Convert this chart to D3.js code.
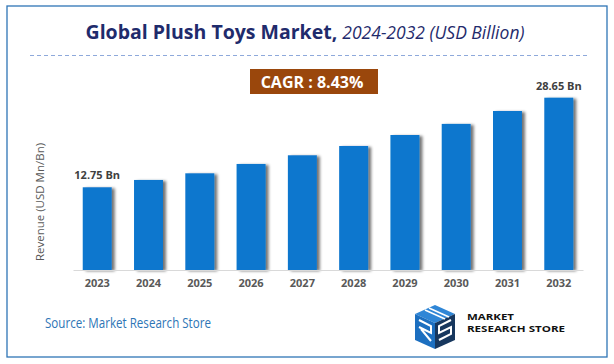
<!DOCTYPE html>
<html>
<head>
<meta charset="utf-8">
<script src="https://cdn.jsdelivr.net/npm/d3@7"></script>
<style>
  body { margin: 0; background: #fff; }
  svg text { font-family: "Open Sans", "Noto Sans", sans-serif; }
</style>
</head>
<body>
<div class="graph-section"></div>
<script>
var years = ["2023", "2024", "2025", "2026", "2027", "2028", "2029", "2030", "2031", "2032"];
var revenue = [12.75, 14.05, 15.23, 16.89, 18.43, 20.08, 22.03, 24.0, 26.29, 28.65];
var labelled = ["2023", "2032"];
var cagr = "CAGR : 8.43%";

var screen = {width: 614, height: 364};
var plot = {left: 73, right: 583, top: 97.7, bottom: 270};

var svg = d3.select(".graph-section")
            .append("svg")
            .attr("width", screen.width)
            .attr("height", screen.height);

var defs = svg.append("defs");
var shadow = defs.append("filter")
                 .attr("id", "shadow")
                 .attr("x", "-20%").attr("y", "-10%")
                 .attr("width", "160%").attr("height", "130%");
shadow.append("feGaussianBlur").attr("in", "SourceAlpha").attr("stdDeviation", 1.6);
shadow.append("feOffset").attr("dx", 3).attr("dy", 1).attr("result", "off");
shadow.append("feComponentTransfer").append("feFuncA").attr("type", "linear").attr("slope", 0.55);
var merge = shadow.append("feMerge");
merge.append("feMergeNode");
merge.append("feMergeNode").attr("in", "SourceGraphic");

// frame
svg.append("rect")
   .attr("x", 7).attr("y", 6)
   .attr("width", 600).attr("height", 351)
   .attr("fill", "none")
   .attr("stroke", "#2E75B6")
   .attr("stroke-width", 1.3);

// title
var title = svg.append("text")
               .attr("x", 305).attr("y", 39)
               .attr("text-anchor", "middle")
               .attr("fill", "#1F2B6C");
title.append("tspan").attr("font-weight", "bold").attr("font-size", 19.5).text("Global Plush Toys Market, ");
title.append("tspan").attr("font-style", "italic").attr("font-size", 17.5).text("2024-2032 (USD Billion)");

svg.append("line")
   .attr("x1", 30).attr("x2", 590)
   .attr("y1", 55.5).attr("y2", 55.5)
   .attr("stroke", "#8EA9DB")
   .attr("stroke-width", 1)
   .attr("stroke-dasharray", "4,3");

// scales
var xScale = d3.scaleBand()
               .domain(years)
               .range([plot.left, plot.right])
               .paddingInner(0.435)
               .paddingOuter(0.19);

var yScale = d3.scaleLinear()
               .domain([-1.93, 28.65])
               .range([plot.bottom, plot.top]);

svg.selectAll(".bar")
   .data(revenue)
   .enter()
   .append("rect")
   .classed("bar", true)
   .attr("x", function(d, i){return xScale(years[i]);})
   .attr("y", function(d){return yScale(d);})
   .attr("width", xScale.bandwidth())
   .attr("height", function(d){return plot.bottom - yScale(d);})
   .attr("fill", "#0B77CE")
   .attr("filter", "url(#shadow)");

var xAxis = d3.axisBottom().scale(xScale).tickSize(0).tickPadding(9);
var axisG = svg.append("g")
               .attr("transform", "translate(0," + plot.bottom + ")")
               .call(xAxis);
axisG.select(".domain").attr("stroke", "#D9D9D9").attr("stroke-width", 1.2);
axisG.selectAll("text")
     .attr("font-family", "'Open Sans', sans-serif")
     .attr("font-size", 11)
     .attr("font-weight", "bold")
     .attr("fill", "#595959");

// value labels
svg.selectAll(".vlabel")
   .data(revenue.filter(function(d, i){return labelled.indexOf(years[i]) >= 0;}))
   .enter()
   .append("text")
   .classed("vlabel", true)
   .attr("x", function(d){return xScale(years[revenue.indexOf(d)]) + xScale.bandwidth() / 2;})
   .attr("y", function(d){return yScale(d) - 8;})
   .attr("text-anchor", "middle")
   .attr("font-size", 11)
   .attr("font-weight", "bold")
   .attr("fill", "#404040")
   .text(function(d){return d.toFixed(2) + " Bn";});

// y label
svg.append("text")
   .attr("transform", "translate(44,202) rotate(-90)")
   .attr("text-anchor", "middle")
   .attr("font-size", 11.5)
   .attr("fill", "#595959")
   .text("Revenue (USD Mn/Bn)");

// CAGR badge
svg.append("rect")
   .attr("x", 250).attr("y", 69)
   .attr("width", 128).attr("height", 25)
   .attr("fill", "#9A470C");
svg.append("text")
   .attr("x", 312).attr("y", 87.5)
   .attr("text-anchor", "middle")
   .attr("font-size", 16)
   .attr("font-weight", "bold")
   .attr("fill", "#fff")
   .text(cagr);

// source
svg.append("text")
   .attr("x", 45).attr("y", 328)
   .attr("font-size", 14)
   .attr("fill", "#2E75B6")
   .attr("textLength", 166)
   .attr("lengthAdjust", "spacingAndGlyphs")
   .text("Source: Market Research Store");

// logo
var logo = svg.append("g").attr("transform", "translate(415,305)");
logo.append("path").attr("d", "M20,0 L40,9 L20,18 L0,9 Z").attr("fill", "#2F86D6");
logo.append("path").attr("d", "M0,9 L20,18 L20,44 L0,35 Z").attr("fill", "#1C6FC0");
logo.append("path").attr("d", "M20,18 L40,9 L40,35 L20,44 Z").attr("fill", "#17375E");
logo.append("path").attr("d", "M10,5 L30,14 M14,3 L34,12").attr("stroke", "#fff").attr("stroke-width", 1.6);
logo.append("path").attr("d", "M4,15 L16,21 L16,28 L4,22 M6,24 L16,36").attr("stroke", "#fff").attr("stroke-width", 2).attr("fill", "none");
logo.append("path").attr("d", "M36,15 L24,21 L24,28 L36,22 L36,29 L24,35").attr("stroke", "#fff").attr("stroke-width", 2).attr("fill", "none");
svg.append("text")
   .attr("x", 467).attr("y", 319.5)
   .attr("font-family", "Roboto, sans-serif")
   .attr("font-size", 9.6)
   .attr("font-weight", "bold")
   .attr("fill", "#111")
   .attr("textLength", 47)
   .attr("lengthAdjust", "spacingAndGlyphs")
   .text("MARKET");
svg.append("text")
   .attr("x", 467).attr("y", 332)
   .attr("font-family", "Roboto, sans-serif")
   .attr("font-size", 9.6)
   .attr("font-weight", "bold")
   .attr("fill", "#111")
   .attr("textLength", 98)
   .attr("lengthAdjust", "spacingAndGlyphs")
   .text("RESEARCH STORE");
</script>
</body>
</html>
